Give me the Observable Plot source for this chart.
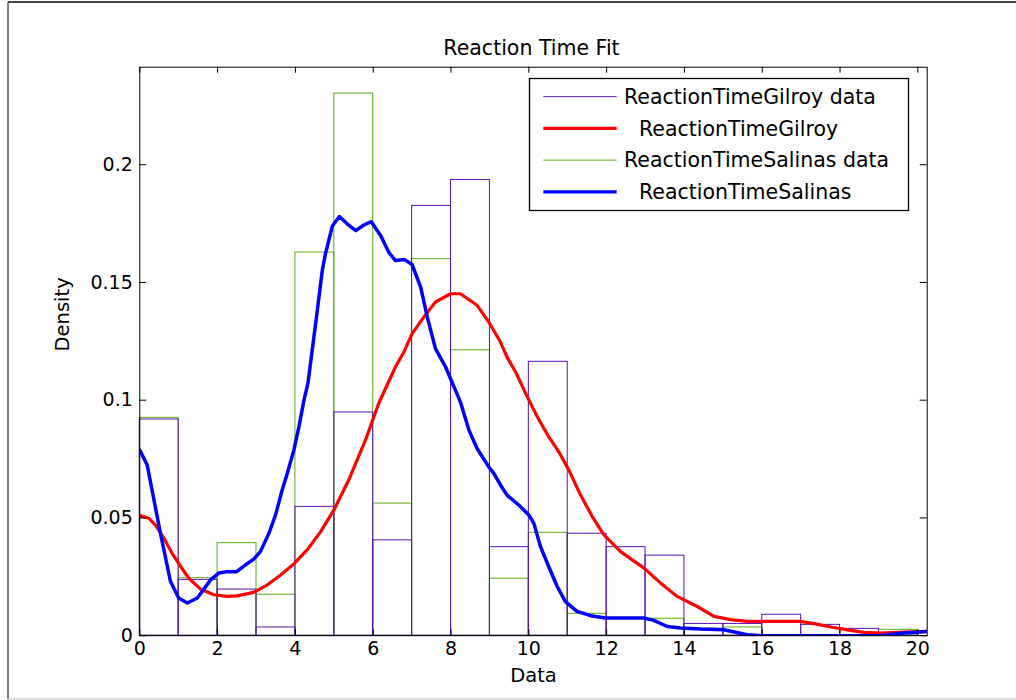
<!DOCTYPE html>
<html><head><meta charset="utf-8">
<script src="https://cdn.jsdelivr.net/npm/d3@7"></script>
<script src="https://cdn.jsdelivr.net/npm/@observablehq/plot@0.6"></script>
<style>body{margin:0;background:#fff;} #chart{position:relative;width:1016px;height:700px;}</style>
</head><body><div id="chart"></div>
<script>
// ---- data ----
const titleText = "Reaction Time Fit";
const xLabel = "Data";
const yLabel = "Density";
const xTicks = [0, 2, 4, 6, 8, 10, 12, 14, 16, 18, 20];
const yTicks = [0, 0.05, 0.1, 0.15, 0.2];
const yTickLabels = ["0", "0.05", "0.1", "0.15", "0.2"];
const binLeft = [0,1,2,3,4,5,6,7,8,9,10,11,12,13,14,15,16,17,18,19];
const gilroyDensity = [0.0918,0.0237,0.0196,0.0035,0.0547,0.0948,0.0405,0.1825,0.1935,0.0376,0.1163,0.0433,0.0376,0.034,0.005,0.005,0.0089,0.0046,0.0029,0.001];
const salinasDensity = [0.0925,0.0244,0.0393,0.0174,0.1627,0.2302,0.0561,0.1599,0.1212,0.0242,0.0437,0.0093,0.0072,0.0072,0.003,0.0035,0.0003,0.0003,0.0003,0.0025];
const gilroyFitX = [0,0.23,0.40,0.62,0.83,1.05,1.26,1.56,1.90,2.25,2.50,2.93,3.28,3.62,3.96,4.30,4.65,4.99,5.37,5.80,6.14,6.57,6.79,7.00,7.30,7.60,7.99,8.24,8.67,8.97,9.27,9.44,9.66,9.92,10.22,10.51,10.77,11.03,11.33,11.63,11.93,12.36,12.96,13.39,13.81,14.33,14.76,15.19,15.61,16.47,16.98,17.33,17.76,18.19,18.61,19.04,19.47,20.24];
const gilroyFitY = [0.051,0.0499,0.047,0.0414,0.035,0.0294,0.0244,0.0198,0.0174,0.0167,0.0169,0.0184,0.0216,0.0258,0.0305,0.0364,0.0442,0.0534,0.0661,0.083,0.0986,0.1141,0.1205,0.1283,0.1353,0.1417,0.1452,0.1452,0.1403,0.1332,0.1247,0.1183,0.112,0.1028,0.0929,0.0845,0.0781,0.0703,0.0597,0.0506,0.0428,0.0357,0.0287,0.0223,0.0167,0.0124,0.0082,0.0068,0.0061,0.0061,0.0061,0.0051,0.0037,0.0025,0.0014,0.0011,0.0014,0.0018];
const salinasFitX = [0,0.19,0.53,0.79,1.00,1.22,1.48,1.82,2.03,2.25,2.49,2.72,2.93,3.10,3.32,3.49,3.66,3.79,3.96,4.09,4.22,4.32,4.52,4.69,4.77,4.95,5.13,5.33,5.55,5.76,5.95,6.19,6.40,6.57,6.80,7.00,7.22,7.39,7.60,7.86,8.24,8.46,8.67,8.97,9.10,9.27,9.44,9.74,10.00,10.13,10.30,10.51,10.73,10.94,11.24,11.59,11.97,12.36,12.96,13.21,13.56,13.90,14.41,15.01,15.61,16.0,17.0,18.0,19.04,19.55,20.24];
const salinasFitY = [0.0788,0.0725,0.0435,0.023,0.016,0.0139,0.016,0.0237,0.0266,0.0272,0.0272,0.0301,0.0325,0.0357,0.0435,0.0513,0.0619,0.0689,0.0788,0.0887,0.1,0.107,0.1325,0.155,0.162,0.174,0.178,0.1749,0.172,0.1744,0.1758,0.1699,0.1628,0.1593,0.1597,0.1576,0.148,0.1353,0.1219,0.1141,0.0993,0.0873,0.0795,0.0717,0.0689,0.064,0.0597,0.0555,0.0513,0.0477,0.0378,0.0294,0.0209,0.0145,0.0103,0.0085,0.0075,0.0075,0.0075,0.0065,0.0039,0.0033,0.0028,0.0025,0.0004,0,0,0,0,0.001,0.0018];
const legendLabels = ["ReactionTimeGilroy data", "ReactionTimeGilroy", "ReactionTimeSalinas data", "ReactionTimeSalinas"];

// ---- styles ----
const FONT = "DejaVu Sans";
const cGilroyBar = "#5a12b4", cSalinasBar = "#5aaa14", cGilroyFit = "#ff0000", cSalinasFit = "#0000ff";
const W = 1016, H = 700;
const mL = 139.3, mR = 89.3, mT = 66.7, mB = 64.8;
const plotW = W - mL - mR, plotH = H - mT - mB;

const gilroyBars = binLeft.map((b, i) => ({x1: b, x2: b + 1, y: gilroyDensity[i]}));
const salinasBars = binLeft.map((b, i) => ({x1: b, x2: b + 1, y: salinasDensity[i]}));
const gilroyFit = gilroyFitX.map((x, i) => ({x, y: gilroyFitY[i]}));
const salinasFit = salinasFitX.map((x, i) => ({x, y: salinasFitY[i]}));

const chart = Plot.plot({
  width: W, height: H,
  marginLeft: mL, marginRight: mR, marginTop: mT, marginBottom: mB,
  x: {domain: [0, 20.24], axis: null},
  y: {domain: [0, 0.2414], axis: null},
  style: {fontFamily: FONT, background: "white", color: "black"},
  marks: [
    Plot.rect(salinasBars, {x1: "x1", x2: "x2", y1: () => 0, y2: "y", fill: "none", stroke: cSalinasBar, strokeWidth: 1}),
    Plot.rect(gilroyBars, {x1: "x1", x2: "x2", y1: () => 0, y2: "y", fill: "none", stroke: cGilroyBar, strokeWidth: 1}),
    Plot.line(gilroyFit, {x: "x", y: "y", stroke: cGilroyFit, strokeWidth: 3.2, clip: true}),
    Plot.line(salinasFit, {x: "x", y: "y", stroke: cSalinasFit, strokeWidth: 3.5, clip: true}),
    Plot.frame({stroke: "black", strokeWidth: 1}),
    Plot.tickX(xTicks, {x: d => d, insetTop: plotH - 6, stroke: "black"}),
    Plot.tickX(xTicks, {x: d => d, insetBottom: plotH - 6, stroke: "black"}),
    Plot.tickY(yTicks, {y: d => d, insetRight: plotW - 7, stroke: "black"}),
    Plot.tickY(yTicks, {y: d => d, insetLeft: plotW - 7, stroke: "black"}),
    Plot.text(xTicks, {x: d => d, frameAnchor: "bottom", dy: 19, text: d => String(d), fontSize: 19, fill: "black"}),
    Plot.text(yTicks, {y: d => d, frameAnchor: "left", dx: -7, textAnchor: "end", text: (d, i) => yTickLabels[i], fontSize: 19, fill: "black"}),
    Plot.text([xLabel], {frameAnchor: "bottom", dy: 46, text: d => d, fontSize: 19.5, fill: "black"}),
    Plot.text([yLabel], {frameAnchor: "left", dx: -77, rotate: -90, text: d => d, fontSize: 19.5, fill: "black"}),
    Plot.text([titleText], {frameAnchor: "top", dy: -26.5, dx: -2, text: d => d, fontSize: 20.5, fill: "black"})
  ]
});

const svg = d3.select(chart);
// figure border
svg.append("line").attr("x1", 8).attr("x2", 8).attr("y1", 2).attr("y2", 699).attr("stroke", "#555").attr("stroke-width", 1.5);
svg.append("line").attr("x1", 8).attr("x2", 1016).attr("y1", 2).attr("y2", 2).attr("stroke", "#444").attr("stroke-width", 2);
svg.append("line").attr("x1", 8).attr("x2", 1016).attr("y1", 699).attr("y2", 699).attr("stroke", "#bbb").attr("stroke-width", 1);

// legend
const lg = svg.append("g").attr("text-anchor", "start");
lg.append("rect").attr("x", 529.5).attr("y", 78.5).attr("width", 379).attr("height", 132)
  .attr("fill", "white").attr("stroke", "black").attr("stroke-width", 1.3);
const entries = [
  {color: cGilroyBar, w: 1, tx: 624},
  {color: cGilroyFit, w: 3.2, tx: 639},
  {color: cSalinasBar, w: 1, tx: 624},
  {color: cSalinasFit, w: 3.2, tx: 639}
];
entries.forEach((e, i) => {
  const yy = 96.7 + i * 31.7;
  lg.append("line").attr("x1", 543.3).attr("x2", 616.7).attr("y1", yy).attr("y2", yy)
    .attr("stroke", e.color).attr("stroke-width", e.w);
  lg.append("text").attr("x", e.tx).attr("y", yy).attr("dy", "0.36em").attr("text-anchor", "start")
    .attr("font-family", FONT).attr("font-size", 20.5).attr("fill", "black").text(legendLabels[i]);
});

document.getElementById("chart").appendChild(chart);
</script>
</body></html>
